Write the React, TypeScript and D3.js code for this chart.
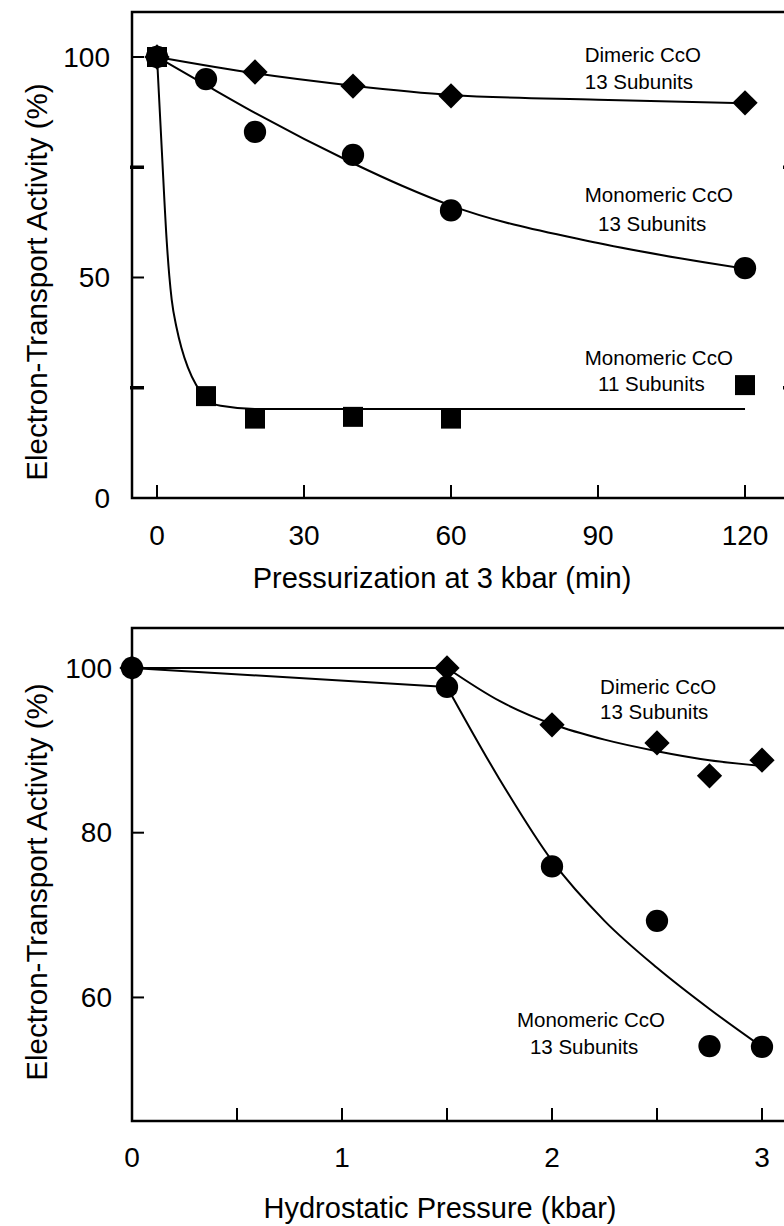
import React, { useEffect, useRef } from "react";
import * as d3 from "d3";

// ---- top panel: pressurization time at 3 kbar ----
const minutes = [0, 10, 20, 40, 60, 120];
const dimericMinutes = [0, 20, 40, 60, 120];
const dimericByTime = [100, 96.6, 93.4, 91.2, 89.6];
const mono13ByTime = [100, 95, 83, 77.8, 65.2, 52.1];
const mono11ByTime = [100, 23.1, 18, 18.4, 18, 25.6];

// fitted curves
const dimericFitMin = [0, 20, 40, 60, 90, 120];
const dimericFitVal = [100, 96.3, 93.5, 91.4, 90.3, 89.5];
const mono13FitMin = [0, 10, 20, 40, 50, 60, 90, 120];
const mono13FitVal = [100, 93.6, 87.3, 75.9, 70.8, 66.3, 57.8, 52];
const mono11FitMin = [0, 1, 2, 2.5, 3, 4, 5, 6.3, 8, 10, 13, 20, 120];
const mono11FitVal = [100, 78.5, 58, 50.5, 45, 38.6, 34, 29.6, 25.6, 22.6, 20.9, 20.2, 20.2];

const minuteTicks = [0, 30, 60, 90, 120];
const activityTicks = [0, 50, 100];
const activityMinorTicks = [25, 75];

// ---- bottom panel: hydrostatic pressure ----
const kbar = [0, 1.5, 2, 2.5, 2.75, 3];
const dimericByPressure = [100, 100, 93.1, 90.9, 86.9, 88.8];
const mono13ByPressure = [100, 97.7, 75.9, 69.3, 54.1, 54];

const dimericHeadKbar = [0, 1.5];
const dimericHeadVal = [100, 100];
const dimericTailKbar = [1.5, 1.75, 2, 2.25, 2.5, 2.75, 3];
const dimericTailVal = [100, 96, 93.2, 91.3, 89.9, 88.8, 88.1];
const monoHeadKbar = [0, 1.5];
const monoHeadVal = [100, 97.7];
const monoTailKbar = [1.5, 1.75, 2, 2.25, 2.5, 2.75, 3];
const monoTailVal = [97.7, 86.5, 76.6, 69.3, 63.6, 58.6, 54];

const kbarTicks = [0.5, 1, 1.5, 2, 2.5, 3];
const kbarLabels = [0, 1, 2, 3];
const pressureActivityTicks = [60, 80, 100];

const yTitle = "Electron-Transport Activity (%)";
const FONT = "'Liberation Sans', Arial, Helvetica, sans-serif";

type Pt = [number, number];
const zip = (xs: number[], ys: number[]): Pt[] => xs.map((x, i) => [x, ys[i]]);

const diamond = { type: d3.symbolSquare, size: 320, rotate: 45 };
const circle = { type: d3.symbolCircle, size: 390, rotate: 0 };
const square = { type: d3.symbolSquare, size: 400, rotate: 0 };

const panels = [
  {
    left: 132, right: 795, top: 12, bottom: 498,
    xDomain: [-5.1, 130.2], yDomain: [0, 110.2],
    xTicks: minuteTicks, xLabels: minuteTicks, xLabelDy: 37,
    yTicks: activityTicks, yLabels: activityTicks, yMinor: activityMinorTicks, yLabelX: 110,
    xTitle: "Pressurization at 3 kbar (min)", xTitleX: 442, xTitleY: 578, yTitleY: 282,
    fits: [
      { pts: zip(mono11FitMin, mono11FitVal), curve: d3.curveMonotoneX },
      { pts: zip(mono13FitMin, mono13FitVal), curve: d3.curveMonotoneX },
      { pts: zip(dimericFitMin, dimericFitVal), curve: d3.curveMonotoneX },
    ],
    series: [
      { ...square, pts: zip(minutes, mono11ByTime) },
      { ...circle, pts: zip(minutes, mono13ByTime) },
      { ...diamond, pts: zip(dimericMinutes, dimericByTime) },
    ],
    notes: [
      { text: "Dimeric CcO", at: [87.3, 100.4] },
      { text: "13 Subunits", at: [87.3, 94.3] },
      { text: "Monomeric CcO", at: [87.3, 68.7] },
      { text: "13 Subunits", at: [90, 62.1] },
      { text: "Monomeric CcO", at: [87.3, 31.7] },
      { text: "11 Subunits", at: [90, 25.8] },
    ],
  },
  {
    left: 132, right: 804, top: 628, bottom: 1121,
    xDomain: [0, 3.2], yDomain: [45, 104.85],
    xTicks: kbarTicks, xLabels: kbarLabels, xLabelDy: 36,
    yTicks: pressureActivityTicks, yLabels: pressureActivityTicks, yMinor: [], yLabelX: 112,
    xTitle: "Hydrostatic Pressure (kbar)", xTitleX: 440, xTitleY: 1208, yTitleY: 882,
    fits: [
      { pts: zip(dimericHeadKbar, dimericHeadVal), curve: d3.curveLinear },
      { pts: zip(dimericTailKbar, dimericTailVal), curve: d3.curveMonotoneX },
      { pts: zip(monoHeadKbar, monoHeadVal), curve: d3.curveLinear },
      { pts: zip(monoTailKbar, monoTailVal), curve: d3.curveMonotoneX },
    ],
    series: [
      { ...circle, pts: zip(kbar, mono13ByPressure) },
      { ...diamond, pts: zip(kbar, dimericByPressure) },
    ],
    notes: [
      { text: "Dimeric CcO", at: [2.229, 97.7] },
      { text: "13 Subunits", at: [2.229, 94.65] },
      { text: "Monomeric CcO", at: [1.833, 57.26] },
      { text: "13 Subunits", at: [1.895, 53.98] },
    ],
  },
];

export default function App() {
  const svgRef = useRef<SVGSVGElement>(null);

  useEffect(() => {
    const svg = d3.select(svgRef.current);
    svg.selectAll("*").remove();

    panels.forEach((p) => {
      const x = d3.scaleLinear().domain(p.xDomain).range([p.left, p.right]);
      const y = d3.scaleLinear().domain(p.yDomain).range([p.bottom, p.top]);
      const g = svg.append("g");

      // fitted curves
      p.fits.forEach((f) => {
        const line = d3.line<Pt>().x((d) => x(d[0])).y((d) => y(d[1])).curve(f.curve);
        g.append("path")
          .attr("d", line(f.pts))
          .attr("fill", "none")
          .attr("stroke", "#000")
          .attr("stroke-width", 2);
      });

      // markers
      p.series.forEach((s) => {
        g.append("g")
          .selectAll("path")
          .data(s.pts)
          .join("path")
          .attr("d", d3.symbol(s.type, s.size)())
          .attr("transform", (d) => `translate(${x(d[0])},${y(d[1])}) rotate(${s.rotate})`)
          .attr("fill", "#000");
      });

      // frame
      g.append("rect")
        .attr("x", p.left)
        .attr("y", p.top)
        .attr("width", p.right - p.left)
        .attr("height", p.bottom - p.top)
        .attr("fill", "none")
        .attr("stroke", "#000")
        .attr("stroke-width", 2.5);

      // ticks, pointing inward
      g.selectAll(null)
        .data(p.xTicks)
        .join("line")
        .attr("x1", (d) => x(d))
        .attr("x2", (d) => x(d))
        .attr("y1", p.bottom)
        .attr("y2", p.bottom - 13)
        .attr("stroke", "#000")
        .attr("stroke-width", 2);

      g.selectAll(null)
        .data(p.yTicks)
        .join("line")
        .attr("x1", p.left)
        .attr("x2", p.left + 12)
        .attr("y1", (d) => y(d))
        .attr("y2", (d) => y(d))
        .attr("stroke", "#000")
        .attr("stroke-width", 2);

      g.selectAll(null)
        .data(p.yMinor)
        .join("line")
        .attr("x1", p.left - 2)
        .attr("x2", p.left + 12)
        .attr("y1", (d) => y(d))
        .attr("y2", (d) => y(d))
        .attr("stroke", "#000")
        .attr("stroke-width", 3.5);

      g.selectAll(null)
        .data(p.yMinor)
        .join("line")
        .attr("x1", p.right - 12)
        .attr("x2", p.right + 2)
        .attr("y1", (d) => y(d))
        .attr("y2", (d) => y(d))
        .attr("stroke", "#000")
        .attr("stroke-width", 3.5);

      // tick labels
      g.selectAll(null)
        .data(p.xLabels)
        .join("text")
        .attr("x", (d) => x(d))
        .attr("y", p.bottom + p.xLabelDy)
        .attr("dy", "0.35em")
        .attr("text-anchor", "middle")
        .style("font", `28px ${FONT}`)
        .text((d) => d);

      g.selectAll(null)
        .data(p.yLabels)
        .join("text")
        .attr("x", p.yLabelX)
        .attr("y", (d) => y(d))
        .attr("dy", "0.35em")
        .attr("text-anchor", "end")
        .style("font", `28px ${FONT}`)
        .text((d) => d);

      // axis titles
      g.append("text")
        .attr("x", p.xTitleX)
        .attr("y", p.xTitleY)
        .attr("dy", "0.35em")
        .attr("text-anchor", "middle")
        .style("font", `29px ${FONT}`)
        .text(p.xTitle);

      g.append("text")
        .attr("transform", `translate(37,${p.yTitleY}) rotate(-90)`)
        .attr("dy", "0.35em")
        .attr("text-anchor", "middle")
        .style("font", `29.5px ${FONT}`)
        .text(yTitle);

      // curve labels
      g.selectAll(null)
        .data(p.notes)
        .join("text")
        .attr("x", (d) => x(d.at[0]))
        .attr("y", (d) => y(d.at[1]))
        .attr("dy", "0.35em")
        .style("font", `20.5px ${FONT}`)
        .text((d) => d.text);
    });
  }, []);

  return (
    <svg
      ref={svgRef}
      width={784}
      height={1226}
      style={{ position: "absolute", left: 0, top: 0, background: "#fff" }}
    ></svg>
  );
}
